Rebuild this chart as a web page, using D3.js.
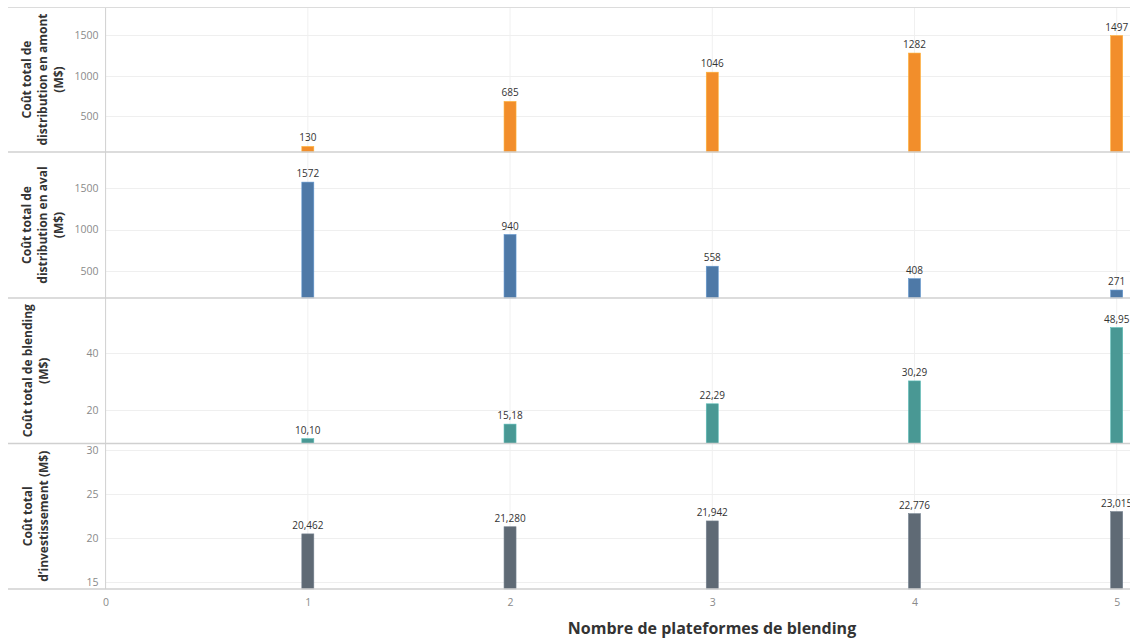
<!DOCTYPE html>
<html>
<head>
<meta charset="utf-8">
<script src="https://cdn.jsdelivr.net/npm/d3@7"></script>
<style>
  html, body { margin: 0; padding: 0; background: #fff; }
  svg { display: block; font-family: "Open Sans", "Noto Sans", sans-serif; }
</style>
</head>
<body>
<svg id="chart" width="1130" height="639"></svg>
<script>
// ---- Data ----
const plateformes = [1, 2, 3, 4, 5];
const xTicks = [0, 1, 2, 3, 4, 5];
const coutAmont = [130, 685, 1046, 1282, 1497];
const coutAval = [1572, 940, 558, 408, 271];
const coutBlending = [10.10, 15.18, 22.29, 30.29, 48.95];
const coutInvestissement = [20.462, 21.280, 21.942, 22.776, 23.015];
const ticksAmont = [500, 1000, 1500];
const ticksAval = [500, 1000, 1500];
const ticksBlending = [20, 40];
const ticksInvestissement = [15, 20, 25, 30];
const titresPanneaux = [
  ["Coût total de", "distribution en amont", "(M$)"],
  ["Coût total de", "distribution en aval", "(M$)"],
  ["Coût total de blending", "(M$)"],
  ["Coût total", "d\u2019investissement (M$)"]
];
const titreX = "Nombre de plateformes de blending";

// ---- Setup ----
const fr = d3.formatLocale({decimal: ",", thousands: "\u202f", grouping: [3], currency: ["", " $"]});
const svg = d3.select("#chart");
const W = 1130;
const axisX = 105.6;
const x = d3.scaleLinear().domain([0, 5]).range([axisX, 1116.7]);

const panels = [
  {values: coutAmont, ticks: ticksAmont, domain: [62, 1850], top: 7, bottom: 152, color: "#F28E2B", fmt: fr.format("d"), title: titresPanneaux[0]},
  {values: coutAval, ticks: ticksAval, domain: [175, 1935], top: 152, bottom: 298, color: "#4E79A7", fmt: fr.format("d"), title: titresPanneaux[1]},
  {values: coutBlending, ticks: ticksBlending, domain: [8.4, 59.3], top: 298, bottom: 443.5, color: "#499894", fmt: fr.format(".2f"), title: titresPanneaux[2]},
  {values: coutInvestissement, ticks: ticksInvestissement, domain: [14.16, 30.8], top: 443.5, bottom: 589, color: "#5F6A75", fmt: fr.format(".3f"), title: titresPanneaux[3]}
];

// vertical gridlines
svg.append("g").selectAll("line").data(xTicks.slice(1)).join("line")
  .attr("x1", d => x(d)).attr("x2", d => x(d))
  .attr("y1", 7).attr("y2", 589)
  .attr("stroke", "#f0f0f0").attr("stroke-width", 1);

const barW = 12;

panels.forEach((p, i) => {
  const y = d3.scaleLinear().domain(p.domain).range([p.bottom, p.top]);
  const g = svg.append("g");

  // horizontal gridlines
  g.selectAll("line.grid").data(p.ticks).join("line")
    .attr("class", "grid")
    .attr("x1", axisX).attr("x2", W)
    .attr("y1", d => Math.round(y(d)) + 0.5).attr("y2", d => Math.round(y(d)) + 0.5)
    .attr("stroke", "#efefef").attr("stroke-width", 1);

  // y axis
  const ax = d3.axisLeft(y).tickValues(p.ticks).tickSize(0).tickPadding(7).tickFormat(d3.format("d"));
  const axg = g.append("g").attr("transform", `translate(${axisX},0)`).call(ax);
  axg.select(".domain").remove();
  axg.selectAll("text").attr("fill", "#8a8a8a").attr("font-size", 10.5).attr("font-family", "\"Open Sans\", sans-serif");

  // bars
  g.selectAll("rect.bar").data(p.values).join("rect")
    .attr("class", "bar")
    .attr("x", (d, j) => x(plateformes[j]) - barW / 2)
    .attr("width", barW)
    .attr("y", d => y(d))
    .attr("height", d => p.bottom - y(d))
    .attr("fill", p.color)
    .attr("stroke", d3.color(p.color).brighter(0.6))
    .attr("stroke-width", 0.6);

  // labels
  g.selectAll("text.lbl").data(p.values).join("text")
    .attr("class", "lbl")
    .attr("x", (d, j) => x(plateformes[j]))
    .attr("y", d => y(d) - 5)
    .attr("text-anchor", "middle")
    .attr("font-size", 10)
    .attr("fill", "#333")
    .text(d => p.fmt(d));

  // title
  const cy = (p.top + p.bottom) / 2;
  const n = p.title.length;
  const L = 16;
  const cx = n === 3 ? 42 : 35;
  const t = g.append("text")
    .attr("transform", `translate(${cx},${cy}) rotate(-90)`)
    .attr("text-anchor", "middle")
    .attr("font-size", 12)
    .attr("font-weight", "bold")
    .attr("fill", "#333");
  p.title.forEach((line, k) => {
    t.append("tspan").attr("x", 0).attr("y", -(n - 1) / 2 * L + k * L + 4.5).text(line);
  });
});

// left axis line
svg.append("line").attr("x1", axisX).attr("x2", axisX).attr("y1", 7).attr("y2", 589)
  .attr("stroke", "#d0d0d0").attr("stroke-width", 1);

// pane separators
svg.append("line").attr("x1", 8).attr("x2", W).attr("y1", 7.5).attr("y2", 7.5)
  .attr("stroke", "#dcdcdc").attr("stroke-width", 1);
[152, 298, 443.5, 589].forEach(yy => {
  svg.append("line").attr("x1", 8).attr("x2", W).attr("y1", yy).attr("y2", yy)
    .attr("stroke", "#d0d0d0").attr("stroke-width", 1.5);
});

// x axis
const xa = d3.axisBottom(x).tickValues(xTicks).tickSize(0).tickPadding(10).tickFormat(d3.format("d"));
const xg = svg.append("g").attr("transform", "translate(0,589)").call(xa);
xg.select(".domain").remove();
xg.selectAll("text").attr("fill", "#8a8a8a").attr("font-size", 10.5).attr("font-family", "\"Open Sans\", sans-serif");

svg.append("text")
  .attr("x", 712).attr("y", 634)
  .attr("text-anchor", "middle")
  .attr("font-size", 16)
  .attr("font-weight", "bold")
  .attr("fill", "#333")
  .text(titreX);
</script>
</body>
</html>
